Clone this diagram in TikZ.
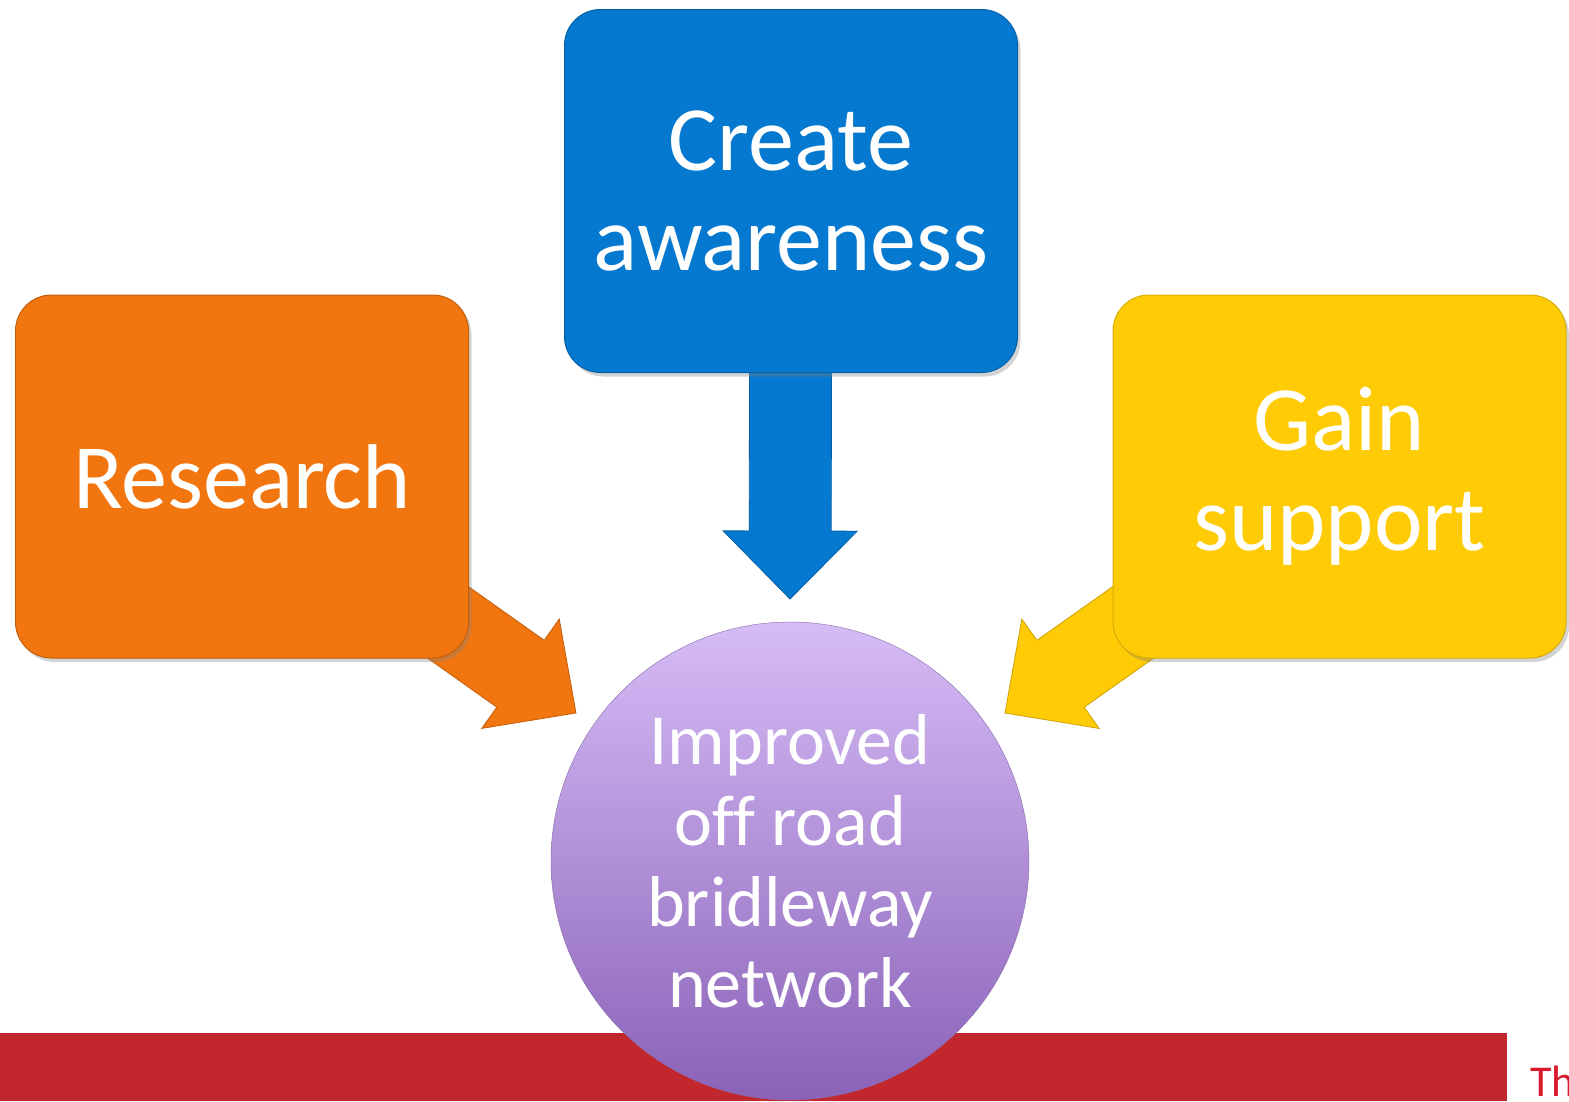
\documentclass[tikz,border=0pt]{standalone}
\usepackage{fontspec}
\setmainfont{Carlito}[Ligatures=NoCommon]
\usetikzlibrary{calc, shadows, backgrounds}
\definecolor{pumpkin-orange}{HTML}{F2760F}
\definecolor{ocean-blue}{HTML}{0578CF}
\definecolor{sun-yellow}{HTML}{FECB05}
\definecolor{lilac-light}{HTML}{D6BCF6}
\definecolor{lilac-dark}{HTML}{8A62B8}
\definecolor{banner-red}{HTML}{C1272D}
\definecolor{text-red}{HTML}{D7192B}

\newcommand{\blockarrow}[3]{%
  \coordinate (base) at ($(#2)!68pt!(#1)$);
  \filldraw[fill=#3, draw=#3!80!black, line width=0.8pt] ($(#1)!41pt!90:(#2)$) -- ($(base)!41pt!-90:(#1)$) -- ($(base)!67pt!-90:(#1)$) -- (#2) -- ($(base)!67pt!90:(#1)$) -- ($(base)!41pt!90:(#1)$) -- ($(#1)!41pt!-90:(#2)$) -- cycle;
}

\begin{document}
\begin{tikzpicture}[x=1pt, y=-1pt,
    box/.style={rectangle, rounded corners=36pt, minimum width=453pt, minimum height=363pt, text=white, align=center, line width=1pt, font=\fontsize{92}{100}\selectfont, drop shadow={opacity=0.35, shadow xshift=3pt, shadow yshift=-4pt}}]
    \useasboundingbox (0,0) rectangle (1569,1101);
    \fill[banner-red] (0,1033) rectangle (1507,1101);
    \node[anchor=base west, inner sep=0pt, text=text-red, font=\fontsize{44}{50}\selectfont] (tag) at (1530,1096) {Th};

    \node[box, fill=ocean-blue, draw=ocean-blue!80!black] (awareness) at (791,191) {Create\\awareness};
    \node[box, fill=pumpkin-orange, draw=pumpkin-orange!80!black] (research) at (242,476.5) {Research};
    \node[box, fill=sun-yellow, draw=sun-yellow!85!black] (support) at (1339.5,476.5) {Gain\\support};
    \node[circle, minimum size=478pt, inner sep=0pt, top color=lilac-light, bottom color=lilac-dark, draw=lilac-dark!70!gray, text=white, align=center, font=\fontsize{72}{81}\selectfont] (goal) at (790,861) {Improved\\off road\\bridleway\\network};

    \coordinate (tip-top) at ($(goal.center)+(0,-262)$);
    \coordinate (tip-left) at ($(goal.center)+(-214,-148)$);
    \coordinate (tip-right) at ($(goal.center)+(215,-148)$);
    \begin{scope}[on background layer]
      \blockarrow{awareness.center}{tip-top}{ocean-blue}
      \blockarrow{research.center}{tip-left}{pumpkin-orange}
      \blockarrow{support.center}{tip-right}{sun-yellow}
    \end{scope}
  \end{tikzpicture}
\end{document}
